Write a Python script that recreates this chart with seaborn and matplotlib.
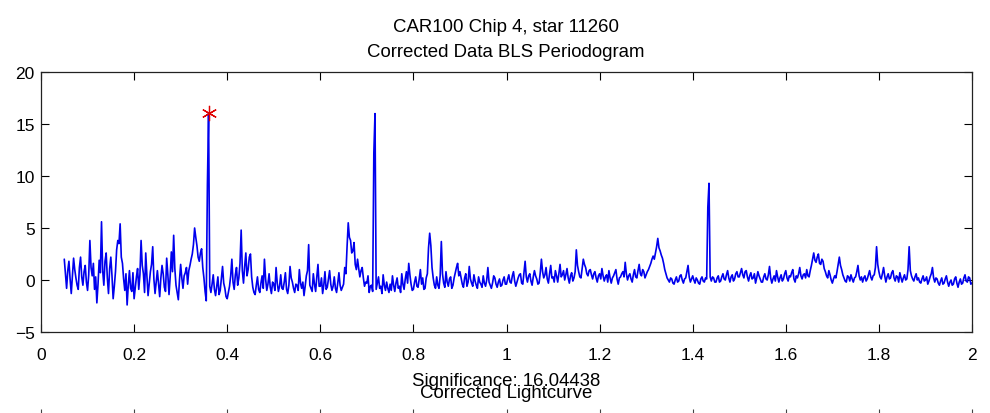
import numpy as np
import pandas as pd
import matplotlib
matplotlib.use('Agg')
import matplotlib.pyplot as plt
import seaborn as sns

# BLS significance, one row per 0.05 in x,
# sampled every 0.0025 (row k starts at 0.05 + 0.05*k)
ROW_START = 0.05
ROW_SPAN  = 0.05
X_STEP    = 0.0025
sig_rows = [
    [2.0, 0.6, -0.8, 0.9, 1.8, 0.1, -1.3, 0.4, 2.1, 1.0, 0.2, -0.5, -0.9, 1.2, 2.2, 0.3, -0.5, 0.8, 1.4, -0.2],
    [-1.0, 0.5, 3.8, 1.2, 0.4, 1.6, -0.9, 0.3, -2.2, -0.4, 1.9, 0.7, 5.6, 0.9, -0.5, 1.8, 2.6, 0.2, -1.3, 1.1],
    [2.2, 0.4, -1.8, -0.6, 0.8, 2.9, 3.8, 3.5, 5.4, 2.2, 1.6, 0.1, -1.0, 0.6, -2.4, -0.5, 0.9, -0.8, -1.1, 0.7],
    [-1.8, -0.7, 0.3, 1.1, -0.9, 0.5, 3.8, 1.4, 0.6, -1.2, 2.6, 0.4, -1.5, -0.3, 0.8, 1.5, 3.2, 0.1, -1.3, -0.2],
    [0.9, -0.4, -1.6, 0.2, 1.4, 0.6, -0.7, -1.1, 2.1, 0.5, -1.4, 0.3, 2.7, 0.8, 4.3, 1.1, -0.5, -1.2, -1.9, 0.0],
    [1.5, 0.2, -0.8, 0.4, 0.7, 1.2, -0.4, 0.9, 1.4, 2.0, 2.5, 3.4, 5.0, 4.1, 3.3, 2.2, 1.8, 2.6, 3.0, 1.2],
    [0.2, -1.1, -2.0, 9.2, 16.04438, -0.6, -1.2, -0.4, 0.5, -0.9, -1.5, -0.6, 0.3, -1.4, -1.0, 0.2, 1.3, -0.3, -0.8, -1.6],
    [-1.8, -1.2, -0.6, 0.4, 2.0, -0.2, -0.9, 0.5, 1.2, -0.5, 0.2, 1.6, 4.8, 0.9, -0.3, 1.3, 2.6, 0.4, 1.0, 2.2],
    [2.5, 0.3, -0.7, -1.2, -1.4, -0.5, 0.3, -0.9, -1.2, -0.3, 0.4, -0.8, 2.0, 0.1, -1.0, -0.4, 0.6, -0.7, -1.3, -0.2],
    [-0.4, -1.0, 1.2, -0.3, -1.1, -0.6, 0.5, -0.8, -0.9, -0.2, 0.7, -0.9, -1.3, -0.5, 1.3, 0.2, -0.2, -0.8, -1.2, -0.4],
    [-0.5, -1.0, 1.0, -0.3, -0.8, -0.2, -1.5, -0.6, 0.4, 0.9, 3.4, -0.5, -0.8, -1.1, 0.6, -0.4, -1.1, 0.3, 1.5, -0.6],
    [-0.6, 0.2, -1.3, -0.5, 0.8, -0.9, -0.7, 0.1, 0.9, -0.4, -1.0, -0.6, 0.3, -0.8, -1.2, -0.3, 0.7, -0.5, -1.0, -0.7],
    [-0.4, 1.2, 0.6, 3.2, 5.5, 4.1, 3.8, 2.6, 2.8, 3.6, 1.5, 1.0, 2.0, 1.1, 0.3, 0.9, 1.2, 0.2, -0.6, -0.2],
    [-0.3, 0.4, -1.2, -0.6, -0.5, -1.1, 12.2, 16.0, -0.9, -0.3, 0.3, -0.8, -0.6, -1.3, 0.5, -0.5, -1.0, -0.2, -0.8, -1.2],
    [-0.4, -1.0, 0.4, -0.5, -1.1, -0.3, 0.2, -0.8, -0.6, -1.2, 0.6, -0.4, -0.9, 0.1, 0.8, -0.3, 1.6, 0.5, -0.4, -1.0],
    [-0.9, -0.2, 0.3, -0.6, -0.7, 0.1, 1.0, -0.4, 0.2, -0.9, -0.8, 0.2, 0.6, 3.1, 4.5, 3.3, 1.2, 0.2, -0.5, -0.8],
    [0.3, -0.5, -0.8, 0.4, 3.7, 0.6, -0.3, -0.7, 0.8, -0.2, -0.6, 0.1, 0.3, -0.8, -0.5, 0.2, 0.7, 1.2, 1.6, 0.4],
    [0.8, 0.2, -0.4, -0.7, 0.2, 0.6, -0.6, -0.2, 1.3, 0.1, -0.3, -0.6, 0.5, -0.1, -0.5, -0.8, 0.3, -0.2, -0.4, -0.7],
    [0.4, -0.3, -0.6, 0.0, 1.2, -0.2, -0.5, -0.8, -0.3, 0.4, 0.2, -0.4, -0.7, -0.2, 0.1, -0.6, -0.5, 0.0, 0.3, -0.4],
    [-0.4, 0.1, 0.5, -0.2, -0.3, 0.4, 0.8, -0.1, -0.6, -0.2, 0.2, 0.5, 0.6, -0.3, -0.4, 0.7, 1.8, 0.3, -0.2, 0.4],
    [0.6, -0.1, -0.5, 0.3, 0.9, 0.4, 0.1, -0.4, -0.3, 0.7, 2.0, 0.8, 0.2, 0.5, 1.2, 0.1, -0.3, 0.6, 1.4, 0.2],
    [0.3, -0.2, 0.9, 0.4, -0.2, 0.6, 1.5, 0.3, 0.5, 0.9, 0.0, 0.5, 1.1, 0.2, -0.3, 0.4, 0.7, -0.1, 0.2, 0.8],
    [2.9, 1.4, 0.8, 0.3, 0.2, 1.1, 2.0, 1.5, 1.2, 0.6, 0.4, 0.9, 1.0, 0.5, 0.1, 0.6, 0.8, 0.2, -0.2, 0.4],
    [0.6, 0.1, 1.1, 0.4, -0.1, 0.3, 0.5, -0.2, 0.9, 0.2, -0.3, 0.2, 0.4, 0.7, 1.0, 0.1, -0.4, 0.2, 0.3, 0.6],
    [0.8, 0.3, 1.7, 0.6, 0.0, 0.4, 0.6, 0.1, -0.2, 0.5, 1.0, 0.3, 0.2, 0.9, 1.5, 0.6, 0.4, 1.0, 0.8, 0.2],
    [0.5, 0.8, 1.0, 1.3, 1.6, 2.0, 2.3, 2.0, 2.6, 3.2, 4.0, 3.1, 2.8, 2.4, 2.1, 1.6, 1.0, 0.6, 0.2, 0.0],
    [-0.2, 0.2, 0.1, -0.3, -0.4, 0.0, 0.3, -0.2, -0.1, 0.4, 0.5, 0.0, -0.3, 0.1, 0.2, 0.8, 1.4, 0.3, -0.2, 0.1],
    [0.4, 0.0, -0.3, 0.2, 0.0, -0.3, -0.4, 0.1, 0.3, -0.1, -0.2, 0.2, 0.1, 7.0, 9.3, 0.3, -0.1, 0.3, 0.2, -0.2],
    [-0.2, 0.2, 0.4, -0.2, -0.1, 0.3, 0.6, 0.1, 0.0, 0.5, 0.9, 0.2, -0.2, 0.3, 0.5, -0.1, 0.1, 0.6, 0.8, 0.3],
    [0.3, 0.7, 1.1, 0.5, 0.2, 0.8, 0.9, 0.3, -0.1, 0.4, 0.7, 0.1, 0.2, 0.6, -0.3, 0.2, 0.8, 0.4, 0.1, -0.2],
    [-0.2, 0.3, 0.6, 0.1, 0.0, 0.5, 1.3, 0.2, -0.3, 0.1, 0.4, -0.1, 0.9, 0.3, -0.2, 0.2, 0.5, -0.1, 0.1, 0.6],
    [0.9, 0.2, -0.1, 0.4, 0.3, 0.7, 1.0, 0.1, -0.2, 0.4, 0.2, 0.6, 1.2, 0.4, 0.1, 0.5, 0.6, 0.2, 1.0, 0.4],
    [0.3, 0.9, 1.4, 2.0, 2.6, 1.9, 1.7, 2.2, 2.5, 1.6, 1.5, 2.0, 1.8, 1.1, 0.8, 0.4, 0.2, 0.9, 0.5, 0.0],
    [-0.3, 0.1, 0.4, 0.2, 0.8, 1.5, 2.2, 1.4, 1.0, 0.5, 0.2, -0.1, -0.2, 0.4, 0.3, -0.1, 0.5, 0.1, -0.2, 0.2],
    [0.3, 0.8, 1.4, 0.4, 0.0, 0.3, -0.2, 0.2, 0.4, -0.1, 0.1, 0.5, 0.9, 0.3, 0.0, 0.4, 0.5, 1.2, 3.2, 1.5],
    [0.8, 0.3, 0.1, 0.6, 1.2, 0.4, -0.2, 0.3, 0.6, 0.1, 0.2, 0.7, 0.9, 0.2, -0.1, 0.4, 0.3, -0.2, 0.7, 0.2],
    [-0.2, 0.2, 0.5, 0.0, 0.1, 1.0, 3.2, 0.9, 0.4, 0.1, -0.1, 0.3, 0.6, 0.0, 0.2, -0.2, -0.3, 0.1, 0.4, -0.1],
    [0.0, 0.3, -0.4, -0.1, 0.3, 0.6, 1.2, 0.2, -0.2, 0.2, 0.1, -0.3, -0.5, -0.1, 0.2, -0.4, -0.3, 0.1, 0.4, -0.2],
    [-0.6, -0.2, 0.0, -0.5, -0.4, 0.1, 0.3, -0.3, -0.7, -0.2, 0.1, -0.4, -0.3, 0.2, 0.5, -0.1, -0.2, 0.3, 0.2, -0.4],
    [-0.3],
]

best_x   = 0.36
best_sig = 16.04438

title_lines = ["CAR100 Chip 4, star 11260", "Corrected Data BLS Periodogram"]
sub_title = "Corrected Lightcurve"
xticks = [0, 0.2, 0.4, 0.6, 0.8, 1, 1.2, 1.4, 1.6, 1.8, 2]
xtick_labels = ["0", "0.2", "0.4", "0.6", "0.8", "1", "1.2", "1.4", "1.6", "1.8", "2"]
yticks = [-5, 0, 5, 10, 15, 20]

# build the table, one x per sample
xs, ys = [], []
for k, row in enumerate(sig_rows):
    for i, v in enumerate(row):
        xs.append(round(ROW_START + ROW_SPAN * k + X_STEP * i, 4))
        ys.append(v)
df = pd.DataFrame({"freq": xs, "sig": ys})

sns.set_style("ticks", {"xtick.direction": "in", "ytick.direction": "in"})
plt.rcParams['font.family'] = ['Liberation Sans', 'DejaVu Sans']
plt.rcParams['text.color'] = 'black'

fig = plt.figure(figsize=(9.9, 4.14), dpi=100)
ax = fig.add_axes([41/990, 1 - 333/414, 931/990, 260/414])

sns.lineplot(data=df, x="freq", y="sig", ax=ax, color="#0000ee", lw=1.2)
ax.plot([best_x], [best_sig], marker=(6, 2, 0), ms=11, mec="#e00000", mew=0.9, ls="none")

ax.set_xlim(0, 2)
ax.set_ylim(-5, 20)
ax.set_xticks(xticks)
ax.set_xticklabels(xtick_labels)
ax.set_yticks(yticks)
ax.set_xlabel("")
ax.set_ylabel("")
ax.tick_params(axis="both", labelsize=12.5, length=6, width=0.8, colors="black",
               top=True, right=True, direction="in")
ax.tick_params(axis="x", pad=11)
ax.tick_params(axis="y", pad=4.5)
for s in ax.spines.values():
    s.set_visible(True)
    s.set_linewidth(0.9)
    s.set_color("#222222")

fig.text(0.511, 1 - 32/414, title_lines[0], ha="center", va="baseline", fontsize=13.4, color="black")
fig.text(0.511, 1 - 57/414, title_lines[1], ha="center", va="baseline", fontsize=13.4, color="black")
fig.text(0.511, 1 - 386/414, "Significance: %.5f" % best_sig, ha="center", va="baseline",
         fontsize=13.4, color="black")
fig.text(0.511, 1 - 398/414, sub_title, ha="center", va="baseline", fontsize=13.4, color="black")

# top edge of the next (cut off) subplot
ax2 = fig.add_axes([41/990, -0.5, 931/990, 0.5 + 4/414])
ax2.set_xlim(0, 2)
ax2.set_xticks(xticks)
ax2.set_yticks([])
ax2.tick_params(axis="x", top=True, bottom=False, labelbottom=False, direction="in",
                length=5, colors="#444444")
for s in ax2.spines.values():
    s.set_visible(False)

fig.savefig("out.png", dpi=100)
